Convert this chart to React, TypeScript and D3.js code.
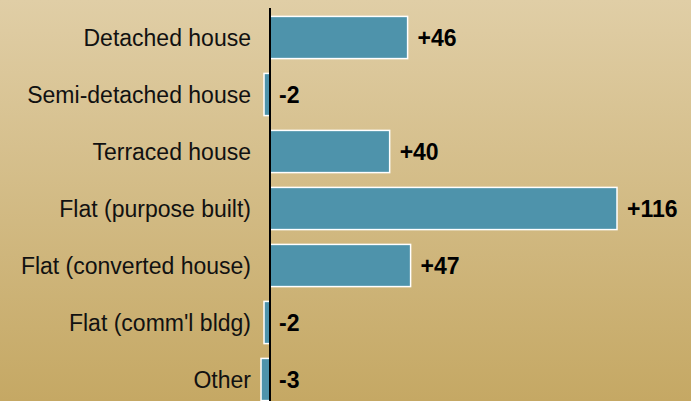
import React from "react";
import * as d3 from "d3";

const categories = [
  "Detached house",
  "Semi-detached house",
  "Terraced house",
  "Flat (purpose built)",
  "Flat (converted house)",
  "Flat (comm'l bldg)",
  "Other",
];
const values = [46, -2, 40, 116, 47, -2, -3];

const W = 691;
const H = 401;

export default function App() {
  const x = d3.scaleLinear().domain([0, 116]).range([270, 617]);
  const y = d3
    .scaleBand<string>()
    .domain(categories)
    .range([9, 408])
    .paddingInner(0.26)
    .paddingOuter(0.13);
  const fmt = (v: number) => (v > 0 ? `+${v}` : `${v}`);
  return (
    <svg
      width={W}
      height={H}
      style={{ position: "absolute", left: 0, top: 0 }}
      fontFamily="'Liberation Sans', Arial, sans-serif"
    >
      <defs>
        <linearGradient id="bg" x1="0" y1="0" x2="0" y2="1">
          <stop offset="0" stopColor="#e0cea6" />
          <stop offset="1" stopColor="#c5a864" />
        </linearGradient>
      </defs>
      <rect x={0} y={0} width={W} height={H} fill="url(#bg)" />
      {categories.map((c, i) => {
        const v = values[i];
        const y0 = y(c)!;
        const bh = y.bandwidth();
        const x0 = Math.min(x(0), x(v));
        const w = Math.abs(x(v) - x(0));
        return (
          <g key={c}>
            <rect
              x={x0}
              y={y0}
              width={w}
              height={bh}
              fill="#4e93ab"
              stroke="#ffffff"
              strokeWidth={1.5}
            />
            <text
              x={251}
              y={y0 + bh / 2}
              dy="0.38em"
              textAnchor="end"
              fontSize={23}
              fill="#111"
            >
              {c}
            </text>
            <text
              x={v > 0 ? x(v) + 10 : x(0) + 9}
              y={y0 + bh / 2}
              dy="0.38em"
              fontSize={23}
              fontWeight="bold"
              fill="#000"
            >
              {fmt(v)}
            </text>
          </g>
        );
      })}
      <line x1={x(0)} x2={x(0)} y1={8} y2={H} stroke="#000" strokeWidth={2} />
    </svg>
  );
}
